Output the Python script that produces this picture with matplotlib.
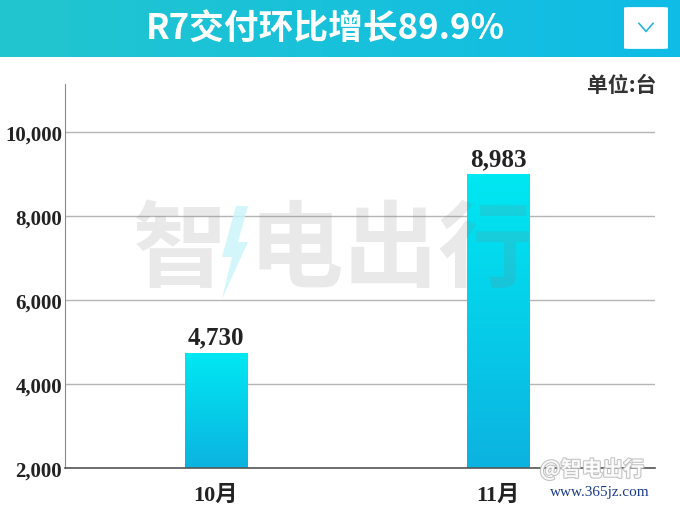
#!/usr/bin/env python3
# -*- coding: utf-8 -*-
'''R7 delivery chart, month-over-month.'''

import numpy as np
import matplotlib
matplotlib.use('Agg')
import matplotlib.pyplot as plt
import matplotlib.patheffects as pe
from matplotlib.colors import LinearSegmentedColormap
from matplotlib.patches import FancyBboxPatch, Polygon

months = ['10月', '11月']
deliveries = [4730, 8983]
yticks = [2000, 4000, 6000, 8000, 10000]
title = 'R7交付环比增长89.9%'
unit = '单位:台'

serif_cjk = ['Liberation Serif', 'Noto Sans CJK SC']
sans_cjk = ['Noto Sans CJK SC', 'DejaVu Sans']

fig = plt.figure(figsize=(6.8, 5.1), dpi=100)

# Header band with gradient
hdr = fig.add_axes([0, 1 - 58 / 510, 1, 58 / 510])
hdr.set_axis_off()
grad = np.linspace(0, 1, 256).reshape(1, -1)
hdr.imshow(grad, aspect='auto', extent=[0, 1, 0, 1],
           cmap=LinearSegmentedColormap.from_list('h', ['#22c6cf', '#0fbce6']))
hdr.set_xlim(0, 1)
hdr.set_ylim(0, 1)
hdr.text(325 / 680, 0.5, title, color='white', fontsize=25, fontweight='bold',
         ha='center', va='center', family=sans_cjk)
hdr.add_patch(FancyBboxPatch((624 / 680, 0.14), 44 / 680, 0.72,
                             boxstyle='round,pad=0,rounding_size=0.01',
                             facecolor='white', edgecolor='none'))
hdr.plot([639 / 680, 646 / 680, 653 / 680], [0.58, 0.44, 0.58], color='#29b6d8', lw=1.2)

# Main axes
ax = fig.add_axes([65 / 680, 41 / 510, 590 / 680, 384 / 510])
x = np.arange(len(months))
bar_w = 0.22
cmap = LinearSegmentedColormap.from_list('b', ['#0cb3e0', '#00e8f2'])
for xi, v in zip(x, deliveries):
    ax.imshow(np.linspace(0, 1, 256).reshape(-1, 1), origin='lower', aspect='auto',
              cmap=cmap, extent=[xi - bar_w / 2, xi + bar_w / 2, 2000, v], zorder=2)
    ax.text(xi, v + 120, f'{v:,}', ha='center', va='bottom', fontsize=18,
            fontweight='bold', family='Liberation Serif', color='#222222', zorder=3)

ax.set_xlim(-0.535, 1.557)
ax.set_ylim(2000, 11150)
ax.set_yticks(yticks)
ax.set_yticklabels([f'{t:,}' for t in yticks], fontsize=15, fontweight='bold',
                   family='Liberation Serif', color='#222222')
ax.set_xticks(x)
ax.set_xticklabels(months, fontsize=16, fontweight='bold', family=serif_cjk, color='#222222')
ax.tick_params(axis='y', length=0, pad=2)
ax.tick_params(axis='x', length=0, pad=12)
ax.grid(axis='y', color='#b5b5b5', lw=1, zorder=0)
ax.set_axisbelow(True)
for s in ['top', 'right']:
    ax.spines[s].set_visible(False)
ax.spines['left'].set_color('#8a8a8a')
ax.spines['bottom'].set_color('#555555')
ax.spines['bottom'].set_linewidth(1.2)

# Unit label
fig.text(656 / 680, 1 - 85 / 510, unit, ha='right', va='center', fontsize=15,
         fontweight='bold', family=sans_cjk, color='#333333')

# Big watermark
fig.text(333 / 680, 1 - 252 / 510, '智 电出行', ha='center', va='center', fontsize=68,
         fontweight='bold', family=sans_cjk, color='#808080', alpha=0.17, zorder=5)
fig.patches.append(Polygon([(236 / 680, 1 - 207 / 510), (222 / 680, 1 - 258 / 510),
                            (232 / 680, 1 - 258 / 510), (222 / 680, 1 - 300 / 510),
                            (248 / 680, 1 - 243 / 510), (238 / 680, 1 - 243 / 510),
                            (248 / 680, 1 - 207 / 510)],
                           closed=True, transform=fig.transFigure,
                           facecolor='#c8f4fa', edgecolor='none', alpha=0.8, zorder=5))

# Corner watermark
fig.text(592 / 680, 1 - 470 / 510, '@智电出行', ha='center', va='center', fontsize=15,
         fontweight='bold', family=sans_cjk, color='white', alpha=0.9, zorder=6,
         path_effects=[pe.withStroke(linewidth=1.5, foreground='#bbbbbb')])
fig.text(600 / 680, 1 - 493 / 510, 'www.365jz.com', ha='center', va='center', fontsize=11,
         family='Liberation Serif', color='#1a3a8a', zorder=6)

fig.savefig('out.png', dpi=100)
plt.close(fig)
